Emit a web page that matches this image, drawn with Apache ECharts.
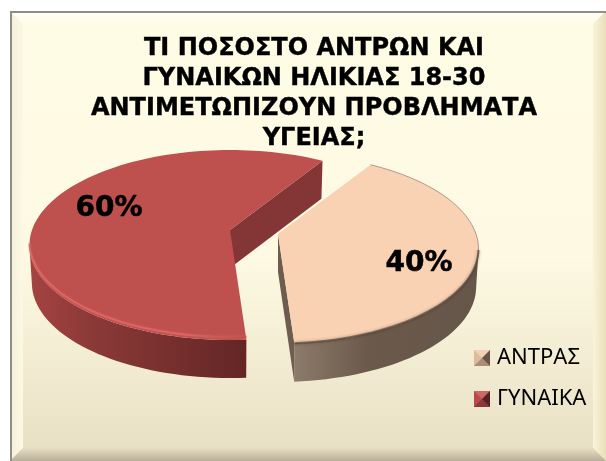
<!DOCTYPE html>
<html>
<head>
<meta charset="utf-8">
<script src="https://cdn.jsdelivr.net/npm/echarts@6/dist/echarts.min.js"></script>
<style>html,body{margin:0;padding:0;background:#fff}#chart{width:606px;height:461px}</style>
</head>
<body>
<div id="chart"></div>
<script>
// Share of men and women aged 18-30 reporting health problems
const titleText = 'ΤΙ ΠΟΣΟΣΤΟ ΑΝΤΡΩΝ ΚΑΙ\nΓΥΝΑΙΚΩΝ ΗΛΙΚΙΑΣ 18-30\nΑΝΤΙΜΕΤΩΠΙΖΟΥΝ ΠΡΟΒΛΗΜΑΤΑ\nΥΓΕΙΑΣ;';
const categories = ['ΑΝΤΡΑΣ', 'ΓΥΝΑΙΚΑ'];
const shares = [40, 60];

// Pie geometry, in pixels: the disc is seen in perspective and given some thickness
const firstSliceAngle = 32;      // degrees clockwise from the far side of the disc
const radiusX = 198, radiusY = 92.6, tilt = 0.158;
const thickness = 38, bottomScale = 0.988;
const apexes = [[278, 234], [230, 230]];
const labelAt = [[419, 264], [109, 209]];

const looks = [
  { top: '#F9D1B3', sideFrom: '#8C7A6A', sideMid: '#6B5A4B', sideTo: '#66564A', cut: '#6E5D4E', rim: null },
  { top: '#BE504E', sideFrom: '#A54342', sideMid: '#8A3937', sideTo: '#632625', cut: '#843636', rim: '#DD6664' }
];

const total = shares.reduce((a, b) => a + b, 0);
const startAngles = shares.map((_, i) =>
  firstSliceAngle + 360 * shares.slice(0, i).reduce((a, b) => a + b, 0) / total);

// Where a point on the unit disc lands on screen; depth 0 is the top face, 1 the underside
function project(apex, u, v, depth) {
  const w = 1 - tilt * v;
  const px = radiusX * u / w, py = radiusY * v / w;
  const s = depth ? bottomScale : 1;
  return [apex[0] + px * s, apex[1] + py + depth * thickness];
}

function arcAngles(from, to) {
  const list = [];
  const steps = Math.max(2, Math.round(Math.abs(to - from) / 2));
  for (let k = 0; k <= steps; k++) list.push((from + (to - from) * k / steps) * Math.PI / 180);
  return list;
}

function renderSlice(index) {
  return function (params, api) {
    const value = api.value(0);
    const look = looks[index];
    const apex = apexes[index];
    const a0 = startAngles[index];
    const a1 = a0 + 360 * value / total;
    const angles = arcAngles(a0, a1);
    const rim = angles.map(a => project(apex, Math.sin(a), -Math.cos(a), 0));
    const children = [];

    // Outer wall: only the part of the rim that faces the viewer
    const faces = a => Math.cos(a) < -tilt;
    const front = angles.filter(faces);
    const upper = front.map(a => project(apex, Math.sin(a), -Math.cos(a), 0));
    const lower = front.map(a => project(apex, Math.sin(a), -Math.cos(a), 1)).reverse();
    const xs = upper.map(p => p[0]);
    const x0 = Math.min.apply(null, xs), x1 = Math.max.apply(null, xs);
    children.push({
      type: 'polygon',
      shape: { points: upper.concat(lower) },
      style: {
        fill: {
          type: 'linear', x: x0, y: 0, x2: x1, y2: 0, global: true,
          colorStops: [
            { offset: 0, color: look.sideFrom },
            { offset: index === 0 ? 0.4 : 0.3, color: look.sideMid },
            { offset: 1, color: look.sideTo }
          ]
        }
      }
    });

    // Cut face that stays in view
    const cutU = Math.sin(a1 * Math.PI / 180), cutV = -Math.cos(a1 * Math.PI / 180);
    const cutPoints = [
      project(apex, 0, 0, 0), project(apex, cutU, cutV, 0),
      project(apex, cutU, cutV, 1), project(apex, 0, 0, 1)
    ];
    children.push({
      type: 'polygon',
      shape: { points: cutPoints },
      style: { fill: look.cut }
    });

    // Top face
    children.push({
      type: 'polygon',
      shape: { points: [project(apex, 0, 0, 0)].concat(rim) },
      style: { fill: look.top }
    });

    // Fine grey line along the arc of the lighter slice
    if (index === 0) {
      children.push({
        type: 'polyline',
        shape: { points: rim },
        style: { fill: null, stroke: 'rgba(110,95,85,0.55)', lineWidth: 1 }
      });
    }

    // Soft edge along the front of the top face; the highlight fades towards the dark end
    const frontRim = upper.map(p => [p[0], p[1] - (look.rim ? 3 : 0.5)]);
    children.push({
      type: 'polyline',
      shape: { points: frontRim },
      style: {
        fill: null,
        stroke: look.rim
          ? { type: 'linear', x: x0, y: 0, x2: x1, y2: 0, global: true,
              colorStops: [{ offset: 0, color: look.rim }, { offset: 0.7, color: look.rim }, { offset: 1, color: look.top }] }
          : 'rgba(70,55,45,0.6)',
        lineWidth: look.rim ? 1.8 : 2,
        shadowBlur: look.rim ? 2 : 3,
        shadowColor: look.rim ? 'rgba(230,110,110,0.5)' : 'rgba(60,45,35,0.7)'
      }
    });

    // Percentage label
    children.push({
      type: 'text',
      style: {
        x: labelAt[index][0], y: labelAt[index][1],
        text: value + '%',
        fill: '#000',
        stroke: '#000',
        lineWidth: 0.5,
        font: 'bold 28px "DejaVu Sans"',
        align: 'center', verticalAlign: 'middle'
      }
    });
    return { type: 'group', children };
  };
}

// Chart panel with its bevelled frame
const W = 606, H = 461, L = 10, T = 11, B = 13;
function bevel(points, colorA, colorB, x, y, x2, y2) {
  return {
    type: 'polygon', silent: true, z: -9,
    shape: { points },
    style: {
      fill: { type: 'linear', x, y, x2, y2, global: true,
        colorStops: [{ offset: 0, color: colorA }, { offset: 1, color: colorB }] }
    }
  };
}
const panel = [
  { type: 'rect', silent: true, z: -10,
    shape: { x: L, y: T, width: W - L, height: H - T },
    style: {
      fill: { type: 'linear', x: 0, y: T, x2: 0, y2: H, global: true,
        colorStops: [{ offset: 0, color: '#FFFCE6' }, { offset: 0.55, color: '#FDF9E2' }, { offset: 1, color: '#E8DFC3' }] }
    } },
  // top and left lit, right and bottom shaded
  bevel([[L, T], [W, T], [W - B, T + B], [L + B, T + B]], '#FFFEF4', '#FFFCE6', 0, T, 0, T + B),
  bevel([[L, T], [L + B, T + B], [L + B, H - B], [L, H]], '#F6F0D8', '#FBF8E4', L, 0, L + B, 0),
  bevel([[W, T], [W, H], [W - B, H - B], [W - B, T + B]], '#FAF4D8', '#E9DEB9', W - B, 0, W, 0),
  bevel([[L, H], [W, H], [W - B, H - B], [L + B, H - B]], '#E8DFC3', '#B8AF98', 0, H - B, 0, H),
  { type: 'line', silent: true, z: -8, shape: { x1: L, y1: T + 1, x2: W, y2: T + 1 }, style: { stroke: '#8F8F8A', lineWidth: 2 } },
  { type: 'line', silent: true, z: -8, shape: { x1: L + 1, y1: T, x2: L + 1, y2: H }, style: { stroke: '#8F8F8A', lineWidth: 2 } }
];

// Pyramid shading over the legend swatches
function swatchFacets(x, y, size) {
  const m = [x + size / 2, y + size / 2];
  const c = [[x, y], [x + size, y], [x + size, y + size], [x, y + size]];
  const tones = ['rgba(255,255,255,0.12)', 'rgba(0,0,0,0.58)', 'rgba(0,0,0,0.3)', 'rgba(0,0,0,0.08)'];
  return tones.map((fill, i) => ({
    type: 'polygon', silent: true, z: 20,
    shape: { points: [c[i], c[(i + 1) % 4], m] },
    style: { fill }
  }));
}

const chart = echarts.init(document.getElementById('chart'), null, { renderer: 'canvas' });
chart.setOption({
  animation: false,
  backgroundColor: '#fff',
  title: {
    text: titleText,
    left: 309, top: 29, textAlign: 'center',
    textStyle: {
      fontFamily: 'DejaVu Sans', fontWeight: 'bold', fontSize: 24, lineHeight: 30, color: '#000',
      textBorderColor: '#000', textBorderWidth: 0.4
    }
  },
  legend: {
    orient: 'vertical', left: 474, top: 347,
    itemWidth: 16, itemHeight: 16, itemGap: 19,
    icon: 'rect',
    textStyle: { fontFamily: '"Noto Sans"', fontSize: 22, color: '#000', padding: [0, 0, 0, 2] },
    padding: 0,
    data: categories
  },
  graphic: { elements: panel.concat(swatchFacets(474, 350, 16), swatchFacets(474, 391, 16)) },
  series: categories.map((name, i) => ({
    type: 'custom',
    name,
    coordinateSystem: 'none',
    silent: true,
    itemStyle: { color: i === 0 ? '#F2CAAC' : '#C65250' },
    data: [[shares[i]]],
    renderItem: renderSlice(i),
    encode: { value: 0 }
  }))
});
</script>
</body>
</html>
